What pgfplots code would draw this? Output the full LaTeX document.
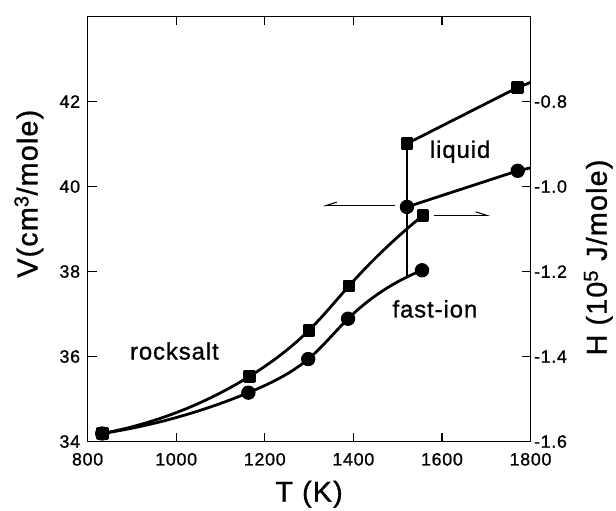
\documentclass[border=0pt]{standalone}
\usepackage{fontspec}
\setmainfont{Liberation Sans}[LetterSpace=4, FakeBold=1]
\usepackage{pgfplots}
\pgfplotsset{compat=1.18}
\usetikzlibrary{arrows.meta, hobby}

% molar volume V (cm^3/mole), circles
\pgfplotstableread{
T      V
833    34.19
1163   35.15
1298   35.94
1388   36.89
1555   38.03
}\Vsolid
\pgfplotstableread{
T      V
1521   39.52
1771   40.37
}\Vliquid

% enthalpy H (10^5 J/mole), squares
\pgfplotstableread{
T      H
833   -1.581
1165  -1.447
1300  -1.338
1390  -1.234
1557  -1.068
}\Hsolid
\pgfplotstableread{
T      H
1521  -0.899
1771  -0.767
}\Hliquid

\tikzset{
  curve/.style={line width=2.8bp, line join=round},
  lab/.style={font=\fontsize{29}{32}\selectfont},
}

\begin{document}
\begin{tikzpicture}[font=\fontsize{18}{21}\selectfont]
\pgfplotsset{
  common/.style={
    scale only axis, width=445bp, height=427bp,
    xmin=800, xmax=1800,
    axis line style={line width=1.4bp},
    tick style={line width=1.2bp, black},
    major tick length=9bp,
    tick align=inside,
    clip=false,
  },
}
\begin{axis}[common, name=ax,
  ymin=34, ymax=44,
  xtick={800,1000,...,1800},
  xticklabels={800,1000,1200,1400,1600,1800},
  xtick pos=both, xticklabel pos=lower,
  ytick={34,36,...,44},
  yticklabels={34,36,38,40,42,},
  ytick pos=left,
  xticklabel style={yshift=-8bp},
  yticklabel style={xshift=-4bp},
  xlabel={T (K)},
  xlabel style={lab, at={(axis description cs:0.5,-0.124)}, anchor=center},
  ylabel={V(cm\textsuperscript{3}/mole)},
  ylabel style={lab, at={(axis description cs:-0.1326,0.583)}, anchor=center},
]
% circles: volume
\addplot[curve, hobby, mark=*, mark size=5.8bp] table[x=T, y=V] {\Vsolid};
\addplot[curve, mark=*, mark size=5.8bp] table[x=T, y=V] {\Vliquid};
\addplot[curve] coordinates {(1771,40.37) (1800,40.44)};

\node at (axis cs:996,36.13) {\fontsize{24}{26}\selectfont rocksalt};
\node at (axis cs:1641,40.82) {\fontsize{24}{26}\selectfont liquid};
\node at (axis cs:1584,37.12) {\fontsize{24}{26}\selectfont fast-ion};

\draw[line width=1.1bp, -{Straight Barb[right, length=11bp, angle'=36]}]
  (axis cs:1495,39.55) -- (axis cs:1330,39.55);
\draw[line width=1.1bp, -{Straight Barb[left, length=11bp, angle'=36]}]
  (axis cs:1582,39.32) -- (axis cs:1709,39.32);
\end{axis}

\begin{axis}[common,
  ymin=-1.6, ymax=-0.6,
  axis x line=none,
  axis y line*=right,
  tick align=inside,
  ytick={-1.6,-1.4,...,-0.6},
  yticklabels={-1.6,-1.4,-1.2,-1.0,-0.8,},
  yticklabel style={xshift=0bp},
  ylabel={H (10\textsuperscript{5} J/mole)},
  ylabel style={lab, at={(axis description cs:1.153,0.433)}, anchor=center},
]
% squares: enthalpy
\addplot[curve, hobby, mark=square*, mark size=5bp] table[x=T, y=H] {\Hsolid};
\addplot[curve, mark=square*, mark size=5bp] table[x=T, y=H] {\Hliquid};
\addplot[curve] coordinates {(1771,-0.767) (1800,-0.755)};
% transition at the melting point
\addplot[curve] coordinates {(1521,-1.213) (1521,-0.899)};
\end{axis}

\path ([shift={(-88bp,-64bp)}]ax.south west) rectangle ([shift={(83bp,16.6bp)}]ax.north east);
\end{tikzpicture}
\end{document}
